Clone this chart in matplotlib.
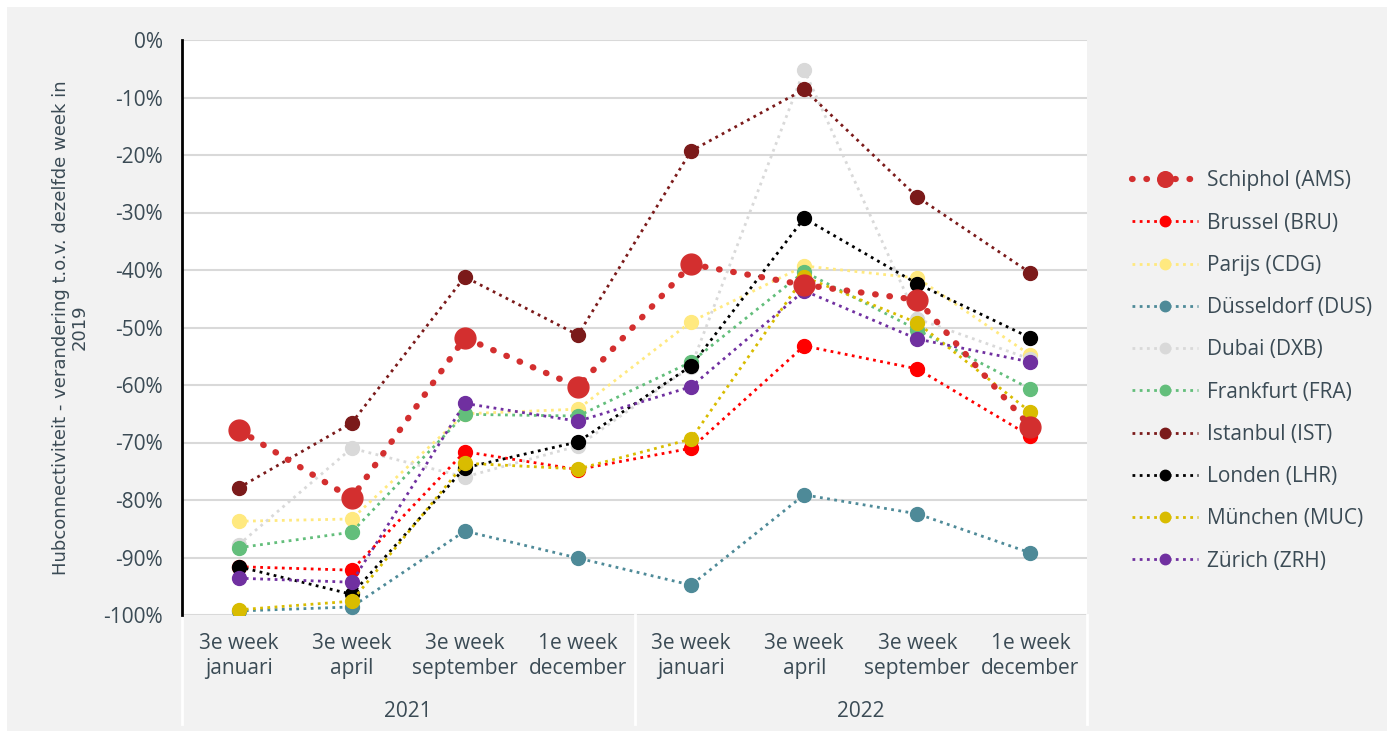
import matplotlib.pyplot as plt
from matplotlib.ticker import PercentFormatter
from matplotlib.patches import Rectangle

# categorieën (x-as)
weeks = ['3e week\njanuari', '3e week\napril', '3e week\nseptember', '1e week\ndecember',
         '3e week\njanuari', '3e week\napril', '3e week\nseptember', '1e week\ndecember']
years = ['2021', '2022']

# hubconnectiviteit t.o.v. 2019 (in %)
ams = [-67.8, -79.7, -51.8, -60.3, -39.0, -42.6, -45.2, -67.3]
bru = [-91.6, -92.2, -71.6, -74.7, -71.0, -53.2, -57.2, -68.9]
cdg = [-83.7, -83.3, -65.0, -64.2, -49.0, -39.3, -41.4, -54.8]
dus = [-99.3, -98.6, -85.4, -90.1, -94.8, -79.1, -82.4, -89.2]
dxb = [-87.8, -71.0, -76.0, -70.6, -56.8, -5.2, -48.5, -55.5]
fra = [-88.3, -85.6, -65.1, -65.4, -56.0, -40.3, -50.4, -60.7]
ist = [-77.9, -66.6, -41.2, -51.3, -19.3, -8.6, -27.3, -40.5]
lhr = [-91.6, -96.4, -74.4, -69.9, -56.7, -31.0, -42.4, -51.8]
muc = [-99.1, -97.6, -73.6, -74.6, -69.4, -41.2, -49.2, -64.7]
zrh = [-93.6, -94.3, -63.2, -66.3, -60.3, -43.6, -52.0, -56.0]

series = [
    ('Brussel (BRU)', bru, '#ff0000'),
    ('Parijs (CDG)', cdg, '#ffe97f'),
    ('Düsseldorf (DUS)', dus, '#4e8a98'),
    ('Dubai (DXB)', dxb, '#d9d9d9'),
    ('Frankfurt (FRA)', fra, '#63be7b'),
    ('Istanbul (IST)', ist, '#7b1a1a'),
    ('Londen (LHR)', lhr, '#000000'),
    ('München (MUC)', muc, '#d9bc00'),
    ('Zürich (ZRH)', zrh, '#7030a0'),
]

txt = '#3b4b55'
fs = 15
plt.rcParams['font.family'] = ['Open Sans', 'DejaVu Sans']
plt.rcParams['axes.unicode_minus'] = False

fig = plt.figure(figsize=(13.87, 7.31), dpi=100, facecolor='white')
fig.patches.append(Rectangle((7 / 1387, 0), 1, 1 - 7 / 731, transform=fig.transFigure,
                             facecolor='#f2f2f2', edgecolor='none', zorder=-10))
ax = fig.add_axes([182 / 1387, 1 - 615 / 731, 905 / 1387, 575 / 731])
ax.set_facecolor('white')

x = list(range(len(weeks)))
handles = []
h_ams, = ax.plot(x, [v / 100 for v in ams], linestyle=(0, (0.1, 2.2)), dash_capstyle='round',
                 linewidth=4.5, color='#d32f2f', marker='o', markersize=15,
                 label='Schiphol (AMS)', zorder=5)
handles.append(h_ams)
for name, vals, col in series:
    h, = ax.plot(x, [v / 100 for v in vals], linestyle=(0, (1, 1.6)), linewidth=2,
                 color=col, marker='o', markersize=10, label=name, zorder=3)
    handles.append(h)

ax.set_xlim(-0.5, 7.5)
ax.set_ylim(-1.0, 0)
ax.set_yticks([i / 10 for i in range(-10, 1)])
ax.yaxis.set_major_formatter(PercentFormatter(1.0, decimals=0))
ax.grid(axis='y', color='#d9d9d9', linewidth=1.5)
ax.set_axisbelow(True)
for s in ['top', 'right', 'bottom']:
    ax.spines[s].set_visible(False)
ax.spines['left'].set_linewidth(2)
ax.spines['left'].set_color('black')

ax.set_xticks(x)
ax.set_xticklabels(weeks, fontsize=fs, color=txt, linespacing=1.25)
ax.tick_params(axis='x', length=0, pad=13)
ax.tick_params(axis='y', length=0, pad=14, labelsize=fs, labelcolor=txt)

# jaartallen en scheidingslijnen onder de as
for i, yr in enumerate(years):
    ax.text(0.25 + 0.5 * i, -0.167, yr, transform=ax.transAxes, ha='center', va='center',
            fontsize=fs, color=txt)
for xf in [0, 0.5, 1.0]:
    ax.plot([xf, xf], [0, -0.19], transform=ax.transAxes, color='white', linewidth=2,
            clip_on=False, zorder=1)

ax.set_ylabel('Hubconnectiviteit - verandering t.o.v. dezelfde week in\n2019',
              fontsize=13, color=txt, family=['Liberation Sans Narrow', 'DejaVu Sans'],
              labelpad=10, linespacing=1.1)

fig.legend(handles=handles, loc='center left', bbox_to_anchor=(1113 / 1387, 1 - 371 / 731),
           frameon=False, fontsize=fs, labelcolor=txt, handlelength=3.2,
           handletextpad=0.4, labelspacing=1.02, markerscale=0.75)

fig.savefig('out.png', dpi=100, facecolor=fig.get_facecolor())
